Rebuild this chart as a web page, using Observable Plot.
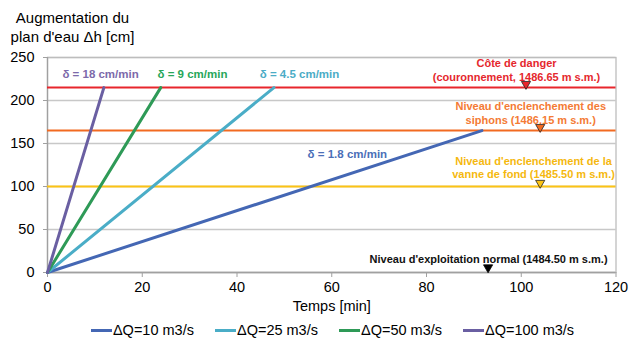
<!DOCTYPE html>
<html><head><meta charset="utf-8">
<script src="https://cdn.jsdelivr.net/npm/d3@7"></script>
<script src="https://cdn.jsdelivr.net/npm/@observablehq/plot@0.6"></script>
<style>
body{margin:0;background:#fff;font-family:"Liberation Sans",Arial,sans-serif;}
#legend{display:flex;justify-content:center;gap:21px;height:22px;align-items:center;font-size:14.5px;color:#000;padding-left:26px;padding-top:1px;}
#legend .it{display:flex;align-items:center;}
#legend .sw{width:21px;height:3px;margin-right:1px;}
</style></head>
<body><div id="chart"></div><div id="legend"></div>
<script>
// Series (ΔQ scenarios): rise rate, end time [min], end height [cm]
const seriesNames = ["ΔQ=10 m3/s", "ΔQ=25 m3/s", "ΔQ=50 m3/s", "ΔQ=100 m3/s"];
const rates = [1.8, 4.5, 9, 18];
const endTimes = [91.7, 47.8, 23.9, 11.9];
const endHeights = [165, 215, 215, 215];
const seriesColors = ["#4467b4", "#4aadc7", "#2e9a57", "#6a5fa2"];
const rateLabels = ["δ = 1.8 cm/min", "δ = 4.5 cm/min", "δ = 9 cm/min", "δ = 18 cm/min"];
const rateLabelX = [63.3, 53.2, 30.6, 11.2];
const rateLabelY = [138, 231, 231, 231];
const rateLabelColors = ["#4b6fb8", "#4bacc6", "#27a65a", "#7d6aaa"];

// Reference levels (cm above normal level)
const levelValues = [215, 165, 100];
const levelColors = ["#e8262c", "#f26a21", "#fcc314"];
const levelTextColors = ["#e5272d", "#f47b35", "#f5b80f"];
const levelTexts = ["Côte de danger\n(couronnement, 1486.65 m s.m.)", "Niveau d'enclenchement des\nsiphons (1486.15 m s.m.)", "Niveau d'enclenchement de la\nvanne de fond (1485.50 m s.m.)"];
const levelTextX = [99, 102, 102.6];
const levelTextY = [235.7, 185.8, 122];
const markerX = [101, 104, 104];

const normalText = "Niveau d'exploitation normal (1484.50 m s.m.)";
const normalTextX = 93.1, normalTextY = 15, normalMarkerX = 93;

const xTicks = [0, 20, 40, 60, 80, 100, 120];
const yTicks = [0, 50, 100, 150, 200, 250];

const lines = [];
seriesNames.forEach((s, i) => {
  lines.push({s, t: 0, h: 0});
  lines.push({s, t: endTimes[i], h: endHeights[i]});
});
const levels = levelValues.map((v, i) => ({v, c: levelColors[i], tc: levelTextColors[i], text: levelTexts[i], tx: levelTextX[i], ty: levelTextY[i], mx: markerX[i]}));
const rateLbl = rateLabels.map((t, i) => ({t, x: rateLabelX[i], y: rateLabelY[i], c: rateLabelColors[i]}));

const font = "Liberation Sans, Arial, sans-serif";
const chart = Plot.plot({
  width: 639, height: 318,
  marginLeft: 47, marginRight: 23.5, marginTop: 57, marginBottom: 46,
  style: {fontFamily: font, fontSize: "14.5px", color: "#000", background: "#fff"},
  x: {domain: [0, 120], ticks: xTicks, label: null, tickSize: 5, tickPadding: 4},
  y: {domain: [0, 250], ticks: yTicks, label: null, tickSize: 4, tickPadding: 9},
  color: {domain: seriesNames, range: seriesColors},
  marks: [
    Plot.gridY(yTicks, {stroke: "#c8c8c8", strokeOpacity: 1, strokeWidth: 1.3}),
    Plot.frame({stroke: "#bdbdbd", strokeWidth: 1.3}),
    Plot.axisX({ticks: xTicks, tickSize: 5, tickPadding: 4, stroke: "#a0a0a0", label: null, fontSize: 14.5}),
    Plot.axisY({ticks: yTicks, tickSize: 4, tickPadding: 9, stroke: "#a0a0a0", label: null, fontSize: 14.5}),
    Plot.ruleY([0], {stroke: "#a0a0a0", strokeWidth: 1.3}),
    Plot.ruleX([0], {stroke: "#a0a0a0", strokeWidth: 1.3}),
    Plot.ruleY(levels, {y: "v", stroke: "c", strokeWidth: 2}),
    Plot.line(lines, {x: "t", y: "h", z: "s", stroke: "s", strokeWidth: 3}),
    Plot.text(rateLbl, {x: "x", y: "y", text: "t", fill: "c", fontWeight: "bold", fontSize: 11.5}),
    Plot.text(levels, {x: "tx", y: "ty", text: "text", fill: "tc", fontWeight: "bold", fontSize: 11, lineHeight: 1.2}),
    Plot.dot(levels, {x: "mx", y: "v", symbol: "triangle", rotate: 180, r: 3.4, dy: -3.5, fill: "c", stroke: "#222", strokeWidth: 0.8}),
    Plot.text([normalText], {x: normalTextX, y: normalTextY, text: d => d, fill: "#111", fontWeight: "bold", fontSize: 11}),
    Plot.dot([normalMarkerX], {x: d => d, y: 0, symbol: "triangle", rotate: 180, r: 3.4, dy: -5, fill: "#000", stroke: "#000", strokeWidth: 0.8}),
    Plot.text(["Augmentation du\nplan d'eau Δh [cm]"], {frameAnchor: "top-left", text: d => d, textAnchor: "middle", lineAnchor: "middle", dx: 25, dy: -31, lineHeight: 1.28, fontSize: 15}),
    Plot.text(["Temps [min]"], {frameAnchor: "bottom", text: d => d, dy: 38, fontSize: 14.5})
  ]
});
document.getElementById("chart").appendChild(chart);

const lg = document.getElementById("legend");
seriesNames.forEach((s, i) => {
  const it = document.createElement("div"); it.className = "it";
  const sw = document.createElement("span"); sw.className = "sw"; sw.style.background = seriesColors[i];
  const tx = document.createElement("span"); tx.textContent = s;
  it.appendChild(sw); it.appendChild(tx); lg.appendChild(it);
});
</script>
</body></html>
